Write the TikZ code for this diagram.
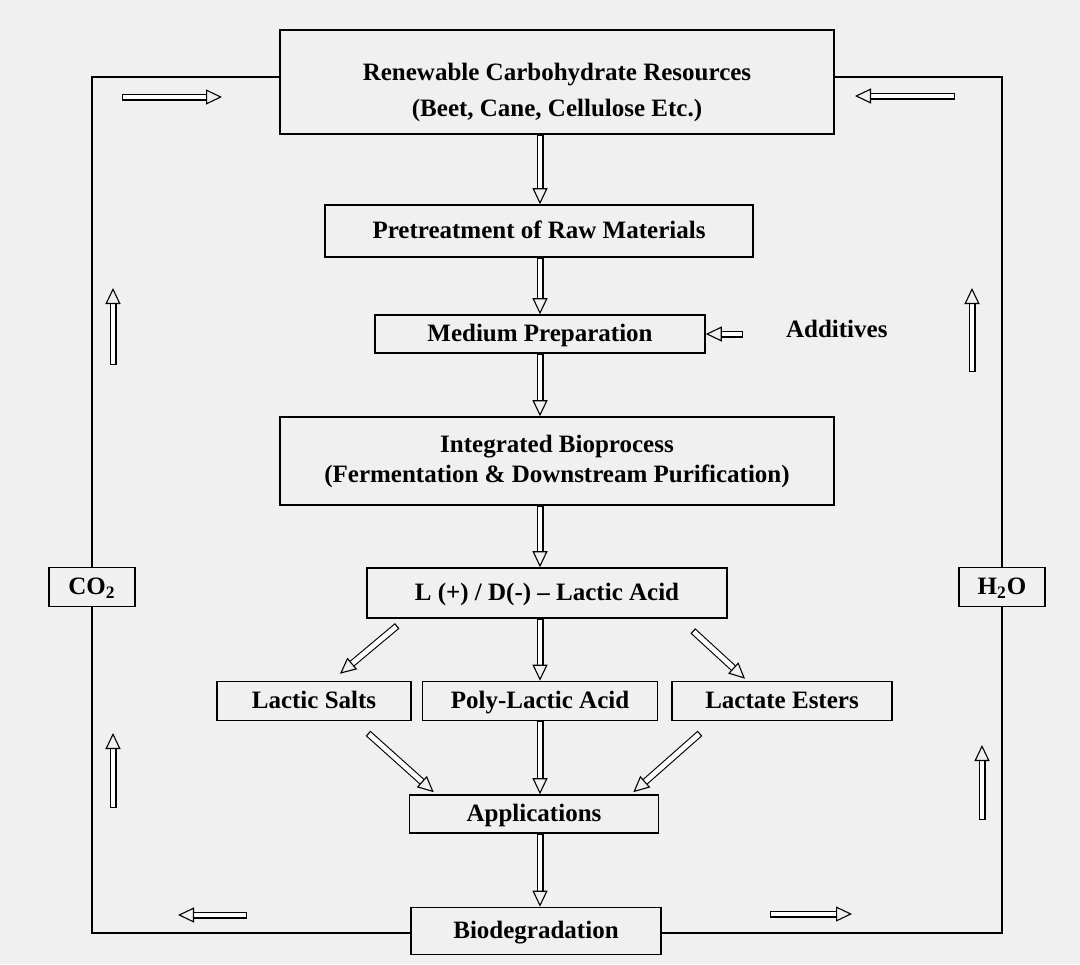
\documentclass[tikz,border=0pt]{standalone}
\usepackage{fontspec}
\setmainfont{Liberation Serif}
\usetikzlibrary{arrows.meta,positioning}

\begin{document}
\begin{tikzpicture}[x=0.5pt,y=-0.5pt,
	box/.style={draw, thick, align=center, inner sep=0pt, font=\fontsize{12.5}{15}\selectfont\bfseries},
	onerow/.style={box, text height=0.9em, text depth=0.15em},
	hollow/.style={draw, double, double distance=2.4pt, line width=0.55pt, {Bar[width=3.5pt, line width=0.55pt]}-{Triangle[open, length=8pt, width=7.5pt]}},
	loop/.style={draw, line width=0.9pt}]
	\fill[black!6] (0,0) rectangle (1080,964);
	\useasboundingbox (0,0) rectangle (1080,964);
	% main chain
	\node [box, minimum width=277pt, minimum height=52pt] (ren) at (557,82) {\rule{0pt}{19pt}Renewable Carbohydrate Resources \\[3pt] (Beet, Cane, Cellulose Etc.)};
	\node [onerow, minimum width=214pt, minimum height=26pt] (pre) at (539,231) {Pretreatment of Raw Materials};
	\node [onerow, minimum width=165pt, minimum height=19pt] (med) at (540,334) {Medium Preparation};
	\node [box, minimum width=277pt, minimum height=44pt] (int) at (557,461) {Integrated Bioprocess \\ (Fermentation \& Downstream Purification)};
	\node [onerow, minimum width=180pt, minimum height=25pt] (la) at (547,593) {L (+) / D(-) -- Lactic Acid};
	\node [onerow, minimum width=97pt, minimum height=19.5pt] (salt) at (314,701) {Lactic Salts};
	\node [onerow, minimum width=117.5pt, minimum height=19.5pt] (pla) at (540,701) {Poly-Lactic Acid};
	\node [onerow, minimum width=110pt, minimum height=19.5pt] (est) at (782,701) {Lactate Esters};
	\node [onerow, minimum width=124.5pt, minimum height=19pt] (app) at (534,814) {Applications};
	\node [onerow, minimum width=125pt, minimum height=23.5pt] (bio) at (536,931) {Biodegradation};
	% side boxes
	\node [onerow, minimum width=43pt, minimum height=19.5pt] (co) at (92,587) {CO\textsubscript{2}};
	\node [onerow, minimum width=43pt, minimum height=19.5pt] (wat) at (1002,587) {H\textsubscript{2}O};
	\node [font=\fontsize{12.5}{15}\selectfont\bfseries, anchor=west] (add) at (779,329) {Additives};

	% recycle loop
	\coordinate (tl) at (92,77);
	\coordinate (tr) at (1002,77);
	\coordinate (bl) at (92,933);
	\coordinate (br) at (1002,933);
	\draw[loop] (ren.west |- tl) -- (tl) -- (co.north);
	\draw[loop] (co.south) -- (bl) -- (bio.west |- bl);
	\draw[loop] (ren.east |- tr) -- (tr) -- (wat.north);
	\draw[loop] (wat.south) -- (br) -- (bio.east |- br);

	% flow arrows
	\coordinate (sp) at (540,0);
	\draw[hollow] (ren.south -| sp) -- (pre.north -| sp);
	\draw[hollow] (pre.south -| sp) -- (med.north -| sp);
	\draw[hollow] (med.south -| sp) -- (int.north -| sp);
	\draw[hollow] (int.south -| sp) -- (la.north -| sp);
	\draw[hollow] (la.south -| sp) -- (pla.north -| sp);
	\draw[hollow] (pla.south -| sp) -- (app.north -| sp);
	\draw[hollow] (app.south -| sp) -- (bio.north -| sp);
	\draw[hollow] ([xshift=15.5pt, yshift=-3.5pt]la.south west) -- ([xshift=13pt, yshift=3.5pt]salt.north);
	\draw[hollow] ([xshift=-17.5pt, yshift=-6pt]la.south east) -- ([xshift=-18.5pt, yshift=1pt]est.north);
	\draw[hollow] ([xshift=27pt, yshift=-6pt]salt.south) -- ([xshift=12.5pt, yshift=1pt]app.north west);
	\draw[hollow] ([xshift=-41pt, yshift=-6pt]est.south) -- ([xshift=-13pt, yshift=1pt]app.north east);
	\draw[hollow, shorten <=18pt] (add.west |- med.east) -- (med.east);

	% direction marks on the loop
	\draw[hollow] (122,97) -- (222,97);
	\draw[hollow] (955,96) -- (855,96);
	\draw[hollow] (113,365) -- (113,288);
	\draw[hollow] (972,372) -- (972,288);
	\draw[hollow] (113,808) -- (113,733);
	\draw[hollow] (982,820) -- (982,745);
	\draw[hollow] (247,915) -- (178,915);
	\draw[hollow] (770,914) -- (852,914);
\end{tikzpicture}
\end{document}
